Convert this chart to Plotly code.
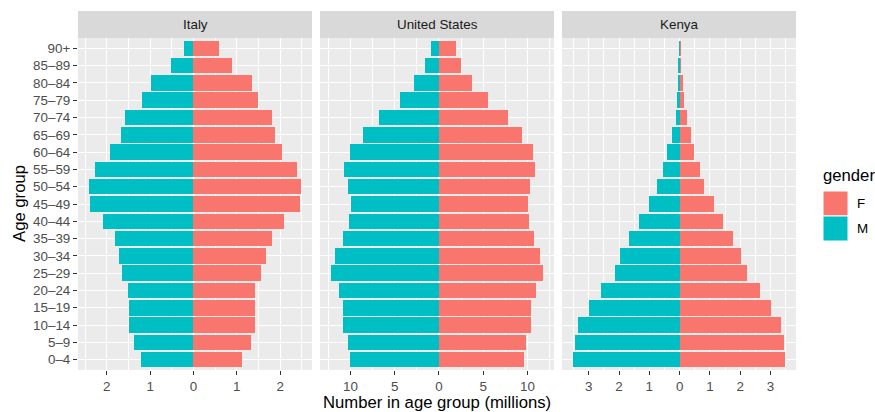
import plotly.graph_objects as go

age_groups = ["0\u20134", "5\u20139", "10\u201314", "15\u201319", "20\u201324", "25\u201329",
              "30\u201334", "35\u201339", "40\u201344", "45\u201349", "50\u201354", "55\u201359",
              "60\u201364", "65\u201369", "70\u201374", "75\u201379", "80\u201384", "85\u201389", "90+"]

countries = ["Italy", "United States", "Kenya"]

italy_f = [1.13, 1.32, 1.41, 1.41, 1.43, 1.55, 1.68, 1.82, 2.10, 2.45, 2.49, 2.40, 2.05, 1.87, 1.82, 1.48, 1.36, 0.90, 0.60]
italy_m = [1.20, 1.38, 1.48, 1.50, 1.52, 1.64, 1.71, 1.82, 2.10, 2.40, 2.42, 2.28, 1.92, 1.68, 1.59, 1.18, 0.97, 0.51, 0.23]

us_f = [9.66, 9.89, 10.45, 10.45, 11.01, 11.80, 11.46, 10.79, 10.22, 10.11, 10.34, 10.90, 10.67, 9.44, 7.75, 5.51, 3.71, 2.47, 1.91]
us_m = [10.11, 10.34, 10.90, 10.90, 11.35, 12.25, 11.80, 10.90, 10.22, 10.00, 10.34, 10.79, 10.11, 8.54, 6.74, 4.38, 2.81, 1.57, 0.90]

kenya_f = [3.49, 3.46, 3.36, 3.00, 2.64, 2.21, 2.04, 1.75, 1.42, 1.12, 0.82, 0.66, 0.49, 0.36, 0.23, 0.13, 0.10, 0.04, 0.03]
kenya_m = [3.53, 3.46, 3.36, 3.00, 2.60, 2.14, 1.98, 1.68, 1.35, 1.02, 0.76, 0.56, 0.40, 0.26, 0.13, 0.07, 0.04, 0.03, 0.02]

italy_ticks = [-2, -1, 0, 1, 2]
us_ticks = [-10, -5, 0, 5, 10]
kenya_ticks = [-3, -2, -1, 0, 1, 2, 3]

genders = ["F", "M"]
colors = {"F": "#F8766D", "M": "#00BFC4"}

data = [
    (italy_f, italy_m, italy_ticks),
    (us_f, us_m, us_ticks),
    (kenya_f, kenya_m, kenya_ticks),
]

# layout geometry (pixels)
W, H = 875, 412
L, R, T, B = 78, 796, 38, 370
pw, ph = R - L, B - T
panels_px = [(78, 312), (320, 554), (562, 796)]

def px_x(px):
    return (px - L) / pw

def px_y(py):
    return (B - py) / ph

FONT = "Liberation Sans, Arial, sans-serif"
SMALL = 13.4
BIG = 16.7
fig = go.Figure()
shapes = []
annotations = []

for i, (fvals, mvals, ticks) in enumerate(data):
    xa = "x" if i == 0 else f"x{i+1}"
    fig.add_trace(go.Bar(y=age_groups, x=fvals, orientation="h", width=0.9,
                         marker=dict(color=colors["F"], line=dict(width=0)),
                         xaxis=xa, yaxis="y", showlegend=False, name="F"))
    fig.add_trace(go.Bar(y=age_groups, x=[-v for v in mvals], orientation="h", width=0.9,
                         marker=dict(color=colors["M"], line=dict(width=0)),
                         xaxis=xa, yaxis="y", showlegend=False, name="M"))
    lo = -max(mvals)
    hi = max(fvals)
    pad = 0.05 * (hi - lo)
    step = ticks[1] - ticks[0]
    minor_vals = [ticks[0] - step / 2] + [t + step / 2 for t in ticks]
    x0p, x1p = panels_px[i]
    axis = dict(
        domain=[px_x(x0p), px_x(x1p)],
        range=[lo - pad, hi + pad],
        anchor="y",
        tickmode="array",
        tickvals=ticks,
        ticktext=[f"{abs(t):g}" for t in ticks],
        ticks="outside", ticklen=4, tickwidth=1, tickcolor="#333333",
        tickfont=dict(family=FONT, size=SMALL, color="#4D4D4D"),
        showgrid=True, gridcolor="white", gridwidth=1.1,
        zeroline=False, showline=False,
        minor=dict(tickmode="array", tickvals=minor_vals, showgrid=True,
                   gridcolor="white", gridwidth=0.55, ticks=""),
        fixedrange=True,
    )
    key = "xaxis" if i == 0 else f"xaxis{i+1}"
    fig.update_layout(**{key: axis})
    # strip
    shapes.append(dict(type="rect", xref="paper", yref="paper",
                       x0=px_x(x0p), x1=px_x(x1p), y0=px_y(38), y1=px_y(11),
                       fillcolor="#D9D9D9", line=dict(width=0), layer="below"))
    annotations.append(dict(text=countries[i], xref="paper", yref="paper",
                            x=(px_x(x0p) + px_x(x1p)) / 2, y=px_y(24.5),
                            xanchor="center", yanchor="middle", showarrow=False,
                            font=dict(family=FONT, size=SMALL, color="#1A1A1A")))

fig.update_layout(
    yaxis=dict(
        type="category", categoryorder="array", categoryarray=age_groups,
        range=[-0.6, len(age_groups) - 0.4],
        domain=[0, 1], anchor="x",
        ticks="outside", ticklen=4, tickwidth=1, tickcolor="#333333",
        tickfont=dict(family=FONT, size=SMALL, color="#4D4D4D"),
        showgrid=True, gridcolor="white", gridwidth=1.1,
        zeroline=False, showline=False, fixedrange=True,
    ),
)

# axis titles
annotations.append(dict(text="Number in age group (millions)", xref="paper", yref="paper",
                        x=px_x(437), y=px_y(403), xanchor="center", yanchor="middle",
                        showarrow=False, font=dict(family=FONT, size=BIG, color="black")))
annotations.append(dict(text="Age group", xref="paper", yref="paper",
                        x=px_x(19), y=px_y(204), xanchor="center", yanchor="middle",
                        textangle=-90, showarrow=False,
                        font=dict(family=FONT, size=BIG, color="black")))

# legend (manual)
annotations.append(dict(text="gender", xref="paper", yref="paper",
                        x=px_x(821), y=px_y(175), xanchor="left", yanchor="middle",
                        showarrow=False, font=dict(family=FONT, size=BIG, color="black")))
key_tops = [191, 216]
for g, top in zip(genders, key_tops):
    shapes.append(dict(type="rect", xref="paper", yref="paper",
                       x0=px_x(823), x1=px_x(848), y0=px_y(top + 25), y1=px_y(top),
                       fillcolor=colors[g], line=dict(color="white", width=1)))
    annotations.append(dict(text=g, xref="paper", yref="paper",
                            x=px_x(855), y=px_y(top + 12.5), xanchor="left", yanchor="middle",
                            showarrow=False, font=dict(family=FONT, size=SMALL, color="black")))

fig.update_layout(
    width=W, height=H,
    margin=dict(l=L, r=W - R, t=T, b=H - B, pad=0),
    paper_bgcolor="white", plot_bgcolor="#EBEBEB",
    barmode="overlay", bargap=0,
    shapes=shapes, annotations=annotations,
    showlegend=False,
    font=dict(family=FONT),
)

fig.write_html("out.html",
               config={"displayModeBar": False},
               post_script="document.body.style.margin='0';document.body.style.overflow='hidden';")
